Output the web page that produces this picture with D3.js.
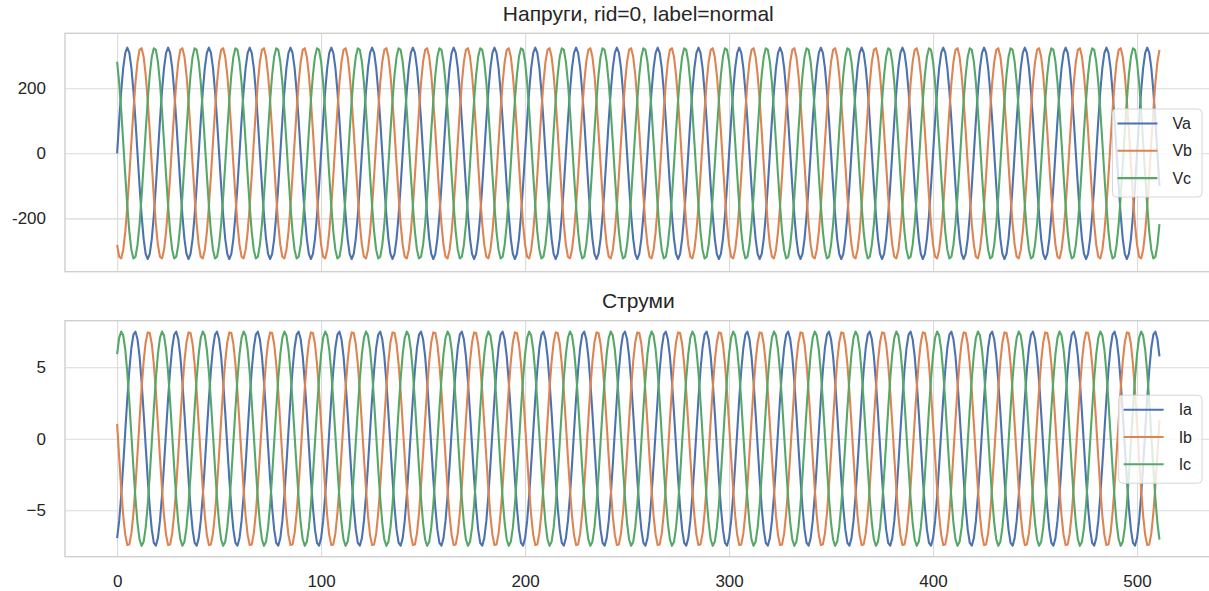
<!DOCTYPE html>
<html>
<head>
<meta charset="utf-8">
<script src="https://cdn.jsdelivr.net/npm/d3@7"></script>
<style>
  body { margin: 0; background: #fff; }
  text { font-family: "Liberation Sans", Arial, sans-serif; fill: #262626; }
</style>
</head>
<body>
<div id="chart"></div>
<script>
// record length (samples 0..511)
var sampleCount = 512;

// one cycle of each phase, 20 samples long
// (the record is strictly periodic, so this cycle repeats over the window)
var vaCycle = [0, 100.4, 191.0, 262.9, 309.1, 325, 309.1, 262.9, 191.0, 100.4,
  0, -100.4, -191.0, -262.9, -309.1, -325, -309.1, -262.9, -191.0, -100.4];
var vbCycle = [-281.5, -317.9, -323.2, -296.9, -241.5, -162.5, -67.6, 34.0, 132.2, 217.5,
  281.5, 317.9, 323.2, 296.9, 241.5, 162.5, 67.6, -34.0, -132.2, -217.5];
var vcCycle = [281.5, 217.5, 132.2, 34.0, -67.6, -162.5, -241.5, -296.9, -323.2, -317.9,
  -281.5, -217.5, -132.2, -34.0, 67.6, 162.5, 241.5, 296.9, 323.2, 317.9];

var iaCycle = [-6.95, -5.75, -3.97, -1.81, 0.52, 2.81, 4.82, 6.36, 7.28, 7.48,
  6.95, 5.75, 3.97, 1.81, -0.52, -2.81, -4.82, -6.36, -7.28, -7.48];
var ibCycle = [1.04, -1.30, -3.52, -5.40, -6.74, -7.43, -7.39, -6.62, -5.21, -3.29,
  -1.04, 1.30, 3.52, 5.40, 6.74, 7.43, 7.39, 6.62, 5.21, 3.29];
var icCycle = [5.91, 7.05, 7.49, 7.21, 6.22, 4.62, 2.57, 0.26, -2.07, -4.19,
  -5.91, -7.05, -7.49, -7.21, -6.22, -4.62, -2.57, -0.26, 2.07, 4.19];

var voltNames = ["Va", "Vb", "Vc"];
var currNames = ["Ia", "Ib", "Ic"];
var seriesColors = ["#4c72b0", "#dd8452", "#55a868"];

var titles = ["Напруги, rid=0, label=normal", "Струми"];

// axis limits and ticks
var xLim = [-25.55, 536.55];
var xTicks = [0, 100, 200, 300, 400, 500];
var xTickLabels = ["0", "100", "200", "300", "400", "500"];
var voltLim = [-364, 369];
var voltTicks = [-200, 0, 200];
var voltTickLabels = ["-200", "0", "200"];
var currLim = [-8.25, 8.25];
var currTicks = [-5, 0, 5];
var currTickLabels = ["\u22125", "0", "5"];

// layout
var svgWidth = 1209;
var svgHeight = 591;
var plotLeft = 65;
var plotRight = 1211.6;

var svg = d3.select("#chart")
  .append("svg")
  .attr("width", svgWidth)
  .attr("height", svgHeight)
  .style("display", "block");

var x = d3.scaleLinear()
  .domain(xLim)
  .range([plotLeft, plotRight]);

function tile(cycle) {
  return d3.range(sampleCount).map(i => ({ x: i, y: cycle[i % cycle.length] }));
}

function drawPanel(top, bottom, yLim, yTicks, yTickLabels, cycles, names, title, showX) {
  var y = d3.scaleLinear()
    .domain(yLim)
    .range([bottom, top]);
  var plotH = bottom - top;
  var plotW = plotRight - plotLeft;

  var g = svg.append("g");

  // vertical grid (+ x labels on the lower panel)
  var xAxis = g.append("g")
    .attr("transform", `translate(0, ${bottom})`)
    .call(d3.axisBottom(x)
      .tickValues(xTicks)
      .tickSize(-plotH)
      .tickPadding(18)
      .tickFormat((d, i) => showX ? xTickLabels[i] : ""));
  xAxis.select(".domain").remove();
  xAxis.selectAll("line").attr("stroke", "#dadada").attr("stroke-width", 1.1);
  xAxis.selectAll("text").attr("font-size", 17).attr("fill", "#2e2e2e")
    .attr("font-family", "Liberation Sans, Arial, sans-serif");

  // horizontal grid + y labels
  var yAxis = g.append("g")
    .attr("transform", `translate(${plotLeft}, 0)`)
    .call(d3.axisLeft(y)
      .tickValues(yTicks)
      .tickSize(-plotW)
      .tickPadding(19)
      .tickFormat((d, i) => yTickLabels[i]));
  yAxis.select(".domain").remove();
  yAxis.selectAll("line").attr("stroke", "#dadada").attr("stroke-width", 1.1);
  yAxis.selectAll("text").attr("font-size", 17).attr("fill", "#2e2e2e")
    .attr("font-family", "Liberation Sans, Arial, sans-serif");

  // series
  var line = d3.line()
    .x(d => x(d.x))
    .y(d => y(d.y));

  cycles.forEach(function(c, i) {
    g.append("path")
      .datum(tile(c))
      .attr("fill", "none")
      .attr("stroke", seriesColors[i])
      .attr("stroke-width", 2.1)
      .attr("stroke-linejoin", "round")
      .attr("d", line);
  });

  // frame
  g.append("rect")
    .attr("x", plotLeft)
    .attr("y", top)
    .attr("width", plotW)
    .attr("height", plotH)
    .attr("fill", "none")
    .attr("stroke", "#cfcfcf")
    .attr("stroke-width", 1.4);

  // title
  g.append("text")
    .attr("x", (plotLeft + plotRight) / 2)
    .attr("y", top - 12.5)
    .attr("text-anchor", "middle")
    .attr("font-size", 21)
    .attr("fill", "#2e2e2e")
    .text(title);

  // legend, centre right
  var leg = g.append("g");
  var rowGap = 27.3;
  var boxH = 88;
  var labels = leg.selectAll("text.lbl")
    .data(names)
    .enter()
    .append("text")
    .attr("class", "lbl")
    .attr("font-size", 16)
    .attr("fill", "#2e2e2e")
    .text(d => d);
  var textW = d3.max(labels.nodes(), n => n.getComputedTextLength());
  var boxW = 5 + 40 + 15 + textW + 10;
  var boxRight = plotRight - 9.6;
  var boxLeft = boxRight - boxW;
  var boxTop = (top + bottom) / 2 - boxH / 2 + 0.5;

  leg.insert("rect", "text")
    .attr("x", boxLeft)
    .attr("y", boxTop)
    .attr("width", boxW)
    .attr("height", boxH)
    .attr("rx", 4)
    .attr("fill", "#fff")
    .attr("fill-opacity", 0.8)
    .attr("stroke", "#d6d6d6")
    .attr("stroke-width", 1);

  names.forEach(function(n, i) {
    var cy = boxTop + 14.5 + i * rowGap;
    leg.append("line")
      .attr("x1", boxLeft + 5)
      .attr("x2", boxLeft + 45)
      .attr("y1", cy)
      .attr("y2", cy)
      .attr("stroke", seriesColors[i])
      .attr("stroke-width", 2.1);
  });
  labels
    .attr("x", boxLeft + 60)
    .attr("y", (d, i) => boxTop + 14.5 + i * rowGap)
    .attr("dy", "0.35em");
  leg.raise();
}

drawPanel(33.3, 271.7, voltLim, voltTicks, voltTickLabels,
  [vaCycle, vbCycle, vcCycle], voltNames, titles[0], false);
drawPanel(320.7, 556.7, currLim, currTicks, currTickLabels,
  [iaCycle, ibCycle, icCycle], currNames, titles[1], true);
</script>
</body>
</html>
